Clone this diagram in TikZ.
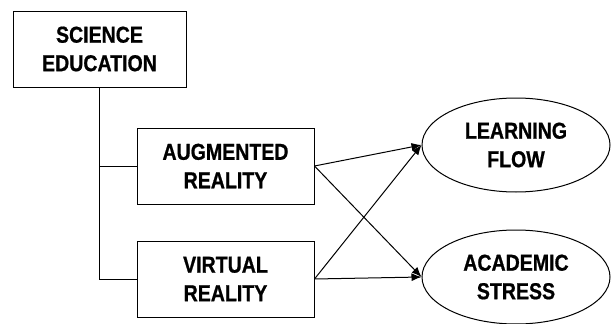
\documentclass[tikz,border=0pt]{standalone}
\usepackage{fontspec}
\setmainfont{Liberation Sans}[FakeStretch=0.85,BoldFeatures={FakeBold=0.8}]
\usetikzlibrary{shapes.geometric,arrows.meta}

\begin{document}
\begin{tikzpicture}[x=1pt,y=-1pt,>={Latex[length=10pt,width=8pt]},line width=1pt,
  lbl/.style={align=center,font=\fontsize{23}{28.5}\selectfont\bfseries},
  box/.style={lbl,draw,minimum width=177pt,minimum height=76pt},
  oval/.style={lbl,draw,ellipse,inner sep=0pt,minimum width=188pt,minimum height=94pt}]
  \useasboundingbox (0,0) rectangle (611,324);
  \node[box,minimum width=173pt] (sci) at (99.5,49) {SCIENCE\\EDUCATION};
  \node[box] (ar) at (225.5,166) {AUGMENTED\\REALITY};
  \node[box] (vr) at (225.5,279) {VIRTUAL\\REALITY};
  \node[oval] (lf) at (516,145) {LEARNING\\FLOW};
  \node[oval] (as) at (516,277) {ACADEMIC\\STRESS};
  % tree from the top box
  \draw (sci.south) -- (sci.south |- vr.west) -- (vr.west);
  \draw (sci.south |- ar.west) -- (ar.west);
  % paths to the outcomes
  \draw[->] (ar.east) -- (lf.west);
  \draw[->] (ar.east) -- (as.west);
  \draw[->] (vr.east) -- (lf.west);
  \draw[->] (vr.east) -- (as.west);
\end{tikzpicture}
\end{document}
